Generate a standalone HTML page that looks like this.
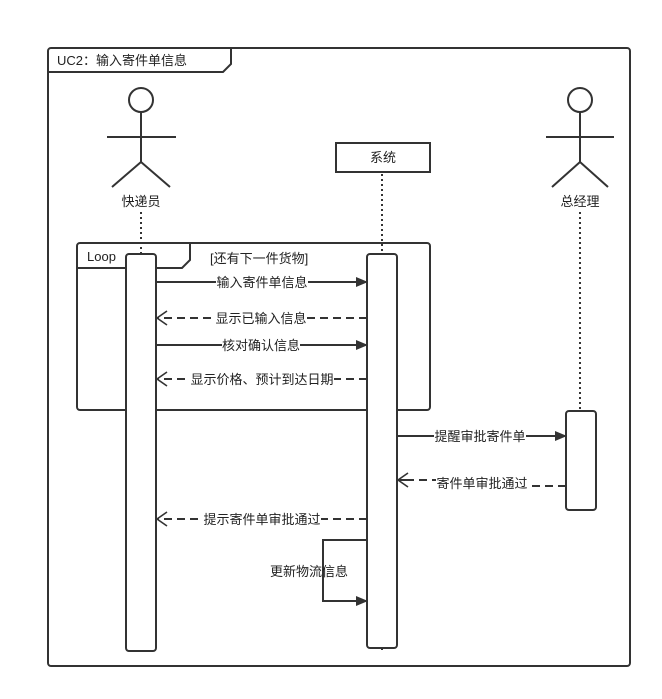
<!DOCTYPE html>
<html><head><meta charset="utf-8"><style>
html,body{margin:0;padding:0;background:#fff;}
svg{display:block;}
text{font-family:"Liberation Sans","Noto Sans CJK SC",sans-serif;font-size:13px;fill:#222;}
</style></head><body>
<svg width="662" height="699" viewBox="0 0 662 699" xmlns="http://www.w3.org/2000/svg">
<defs>
<marker id="fa" markerWidth="12" markerHeight="10" refX="11" refY="5" orient="auto" markerUnits="userSpaceOnUse"><path d="M0,0 L12,5 L0,10 z" fill="#333"/></marker>
<marker id="oa" markerWidth="13" markerHeight="16" refX="11" refY="8" orient="auto" markerUnits="userSpaceOnUse"><path d="M1,1 L11,8 L1,15" fill="none" stroke="#333" stroke-width="1.6"/></marker>
</defs>
<g stroke="#333" stroke-width="2" fill="none">
<rect x="48" y="48" width="582" height="618" rx="3" fill="#fff"/>
<path d="M48,72 L223,72 L231,64 L231,48"/>
<circle cx="141" cy="100" r="12"/>
<path d="M141,112 V162 M107,137 H176 M141,162 L112,187 M141,162 L170,187"/>
<circle cx="580" cy="100" r="12"/>
<path d="M580,112 V162 M546,137 H614 M580,162 L552,187 M580,162 L608,187"/>
<rect x="336" y="143" width="94" height="29"/>
</g>
<g stroke="#333" stroke-width="2" stroke-dasharray="2,3" fill="none">
<path d="M141,212 V254 M382,174 V254 M580,212 V410 M382,648 V652"/>
</g>
<g stroke="#333" stroke-width="2" fill="none">
<rect x="77" y="243" width="353" height="167" rx="3"/>
<path d="M77,268 L182,268 L190,260 L190,243"/>
<rect x="126" y="254" width="30" height="397" rx="3" fill="#fff"/>
<rect x="367" y="254" width="30" height="394" rx="3" fill="#fff"/>
<rect x="566" y="411" width="30" height="99" rx="3" fill="#fff"/>
</g>
<g stroke="#333" stroke-width="2" fill="none">
<line x1="156" y1="282" x2="367" y2="282" marker-end="url(#fa)"/>
<line x1="367" y1="318" x2="157" y2="318" stroke-dasharray="8,5" marker-end="url(#oa)"/>
<line x1="156" y1="345" x2="367" y2="345" marker-end="url(#fa)"/>
<line x1="367" y1="379" x2="157" y2="379" stroke-dasharray="8,5" marker-end="url(#oa)"/>
<line x1="397" y1="436" x2="566" y2="436" marker-end="url(#fa)"/>
<path d="M566,486 H530 M440,480 H398" stroke-dasharray="8,5"/>
<line x1="410" y1="480" x2="398" y2="480" marker-end="url(#oa)"/>
<line x1="367" y1="519" x2="157" y2="519" stroke-dasharray="8,5" marker-end="url(#oa)"/>
<path d="M367,540 H323 V601 H367" marker-end="url(#fa)"/>
</g>
<g>
<text x="57" y="65">UC2：输入寄件单信息</text>
<text x="141" y="206" text-anchor="middle">快递员</text>
<text x="383" y="162" text-anchor="middle">系统</text>
<text x="580" y="206" text-anchor="middle">总经理</text>
<text x="87" y="261">Loop</text>
<text x="210" y="263">[还有下一件货物]</text>
</g>
<g>
<rect x="216" y="274" width="92" height="16" fill="#fff"/><text x="262" y="287" text-anchor="middle">输入寄件单信息</text>
<rect x="215" y="310" width="92" height="16" fill="#fff"/><text x="261" y="323" text-anchor="middle">显示已输入信息</text>
<rect x="222" y="337" width="78" height="16" fill="#fff"/><text x="261" y="350" text-anchor="middle">核对确认信息</text>
<rect x="190" y="371" width="144" height="16" fill="#fff"/><text x="262" y="384" text-anchor="middle">显示价格、预计到达日期</text>
<rect x="434" y="428" width="92" height="16" fill="#fff"/><text x="480" y="441" text-anchor="middle">提醒审批寄件单</text>
<rect x="436" y="475" width="92" height="16" fill="#fff"/><text x="482" y="488" text-anchor="middle">寄件单审批通过</text>
<rect x="203" y="511" width="118" height="16" fill="#fff"/><text x="262" y="524" text-anchor="middle">提示寄件单审批通过</text>
<text x="309" y="576" text-anchor="middle">更新物流信息</text>
</g>
</svg>
</body></html>
